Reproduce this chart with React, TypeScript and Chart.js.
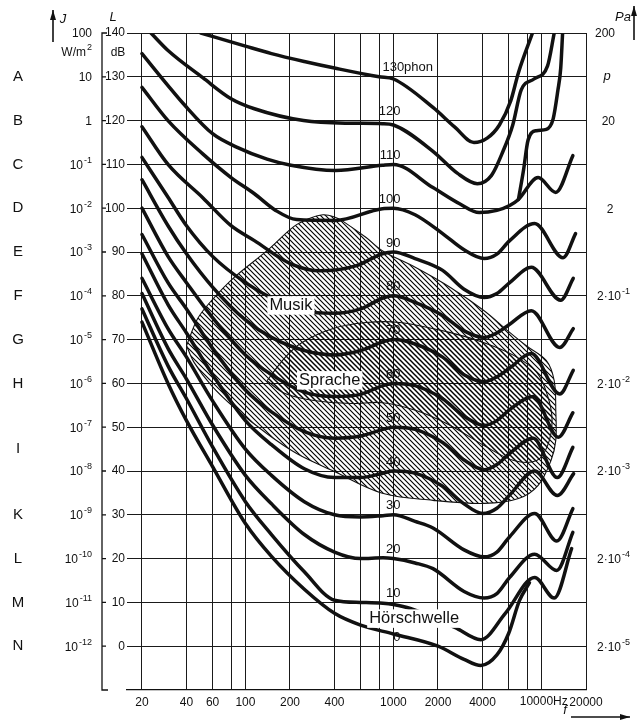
import React, { useEffect, useRef } from "react";
import { Chart, registerables } from "chart.js";

Chart.register(...registerables);

const FONT = "'Liberation Sans', Arial, Helvetica, sans-serif";

// ---------- axes ----------
const gridFreqs = [20, 40, 60, 80, 100, 200, 400, 600, 800, 1000, 2000, 4000, 6000, 8000, 10000, 20000];
const labeledFreqs = [20, 40, 60, 100, 200, 400, 1000, 2000, 4000, 20000];
const dbTicks = [0, 10, 20, 30, 40, 50, 60, 70, 80, 90, 100, 110, 120, 130, 140];

// ---------- equal loudness contours [Hz, dB] ----------
const phonLevels = [130, 120, 110, 100, 90, 80, 70, 60, 50, 40, 30, 20, 10, 0];
const curve130 = [[50, 140], [100, 137], [150, 135.3], [250, 133.5], [400, 132], [800, 130], [1000, 129.5], [1850, 123], [2600, 118.5], [3500, 115], [4300, 116], [5200, 119], [6200, 124.5], [7000, 131], [8700, 140]];
const curve120 = [[23, 140], [30, 136], [51.5, 129.8], [80, 125], [115, 122.7], [247, 120], [500, 119.4], [842, 119.3], [1000, 119], [1850, 113], [2700, 108], [3690, 105.6], [4600, 107.5], [5500, 113], [6400, 119], [7300, 127], [8900, 129.5], [11000, 132.5], [12200, 140]];
const curve110 = [[20, 135.3], [30, 128], [38, 123.9], [60, 117], [88, 113.9], [140, 111.2], [203, 109.8], [406, 108.6], [842, 109.8], [1000, 110], [1850, 104.7], [2800, 101], [3800, 99], [5000, 99.5], [6100, 100.6], [6990, 102], [9500, 107], [12500, 103.6], [16300, 112]];
const curve110Steep = [[6990, 102], [7560, 108.6], [8130, 115.6], [9240, 117.7], [10800, 118], [12000, 120.4], [12900, 126.8], [13500, 132], [13900, 140]];
const curve100 = [[20, 127.6], [30, 120], [51.5, 112.4], [80, 107], [115, 103.3], [160, 99.5], [222, 97.4], [406, 97.2], [842, 99.9], [1000, 100], [1400, 98.5], [2150, 94.2], [3000, 90.5], [4100, 88.5], [5000, 89.5], [6100, 92.6], [9000, 96.5], [14000, 88.7], [17000, 94.2]];
const curve90 = [[20, 118.6], [30, 110], [51.5, 102.4], [80, 96], [115, 92.6], [203, 87.3], [319, 85.7], [563, 86.9], [842, 89.6], [1000, 90], [1400, 88.5], [2150, 85.8], [3000, 81.5], [4100, 79.6], [5000, 80.5], [6100, 83], [8540, 86.5], [13500, 79], [16400, 84]];
const curve80 = [[20, 111.6], [30, 102.5], [40, 96], [60, 89], [100, 83], [150, 79.5], [250, 76.5], [400, 76], [600, 77], [850, 79.5], [1000, 80], [1400, 78.5], [2150, 75.5], [3000, 72], [4100, 70.5], [5000, 71.5], [6100, 73.5], [8540, 76.6], [13300, 68.2], [16400, 72.5]];
const curve70 = [[20, 106.5], [30, 96], [40, 89.6], [60, 82], [100, 74.5], [150, 70.5], [250, 67.5], [400, 66.5], [600, 67.5], [850, 69.5], [1000, 70], [1400, 69], [2150, 66], [3000, 62], [4100, 60.4], [5000, 61.5], [6100, 63.5], [8540, 66.8], [13300, 57.6], [16400, 63]];
const curve60 = [[20, 100], [30, 89], [40, 83], [60, 75], [100, 66.5], [150, 62], [250, 58], [400, 57], [600, 57.5], [850, 59.5], [1000, 60], [1400, 59.5], [2150, 56.5], [3000, 52.5], [4100, 50.4], [5000, 51.5], [6100, 54], [8800, 57], [13000, 47.7], [16300, 53.3]];
const curve50 = [[20, 94], [30, 83], [40, 77], [60, 68], [100, 58.5], [150, 53.5], [250, 49], [400, 47.5], [600, 48], [850, 49.5], [1000, 50], [1400, 49.5], [2150, 46.5], [3000, 42.5], [4100, 40.3], [5000, 41.5], [6100, 44], [8800, 47.5], [12800, 38.5], [16300, 45.4]];
const curve40 = [[20, 89.6], [30, 78], [40, 71.5], [60, 62], [100, 51.5], [150, 46], [250, 40.5], [400, 38.5], [600, 38.5], [850, 39.5], [1000, 40], [1400, 39.5], [2150, 36.5], [3000, 32.5], [4000, 30.3], [5000, 31.5], [6100, 34.5], [9000, 40], [12800, 34.4], [16500, 39.4]];
const curve30 = [[20, 84], [30, 72.5], [40, 66], [60, 56], [100, 45], [150, 39], [250, 33], [400, 30], [600, 29.5], [850, 29.8], [1000, 30], [1400, 28.5], [1850, 27], [3000, 22], [4100, 20.4], [5000, 21.5], [6100, 25], [9000, 30.3], [12700, 24], [16300, 31.4]];
const curve20 = [[20, 80.5], [30, 68], [40, 61], [60, 50.5], [100, 39], [150, 32.5], [250, 25.5], [400, 21.5], [600, 20], [850, 20.2], [1000, 20], [1400, 19], [1850, 17.7], [3000, 12.5], [4100, 11], [5000, 12], [6100, 15.7], [9000, 21], [12700, 17.3], [16300, 26]];
const curve10 = [[20, 77], [30, 64], [40, 56.5], [60, 45.5], [100, 33], [150, 25.5], [250, 17], [400, 10.5], [600, 10], [850, 9.8], [1000, 9.5], [1300, 8.6], [2600, 4.3], [3900, 1.5], [5700, 7.5], [9000, 15.7], [12200, 11], [16000, 22.3]];
const curve0 = [[20, 74], [30, 60], [40, 51.5], [60, 41], [100, 28], [150, 20.5], [250, 13], [400, 7.5], [600, 4.8], [1000, 2.8], [2000, 0], [3000, -3], [3900, -4.4], [5000, -2], [6000, 2.9], [7100, 10.4], [8300, 14.5]];
const curves = [curve130, curve120, curve110, curve110Steep, curve100, curve90, curve80, curve70, curve60, curve50, curve40, curve30, curve20, curve10, curve0];
const curveNames = ["130", "120", "110", "110 (steil)", "100", "90", "80", "70", "60", "50", "40", "30", "20", "10", "0"];

// ---------- hatched regions [Hz, dB] ----------
const musikArea = [[40, 68.6], [47.6, 74.8], [59, 78.9], [84, 84.2], [140, 90.3], [212, 95.8], [267, 97.6], [334, 98.5], [400, 98], [457, 97], [654, 93.3], [842, 90.3], [1425, 86.4], [2426, 81.9], [4100, 76.6], [5930, 72], [7900, 68.6], [10800, 65.2], [12200, 60.6], [12500, 53.8], [12500, 47], [11600, 42.4], [9500, 36.7], [7000, 33.7], [4100, 32.6], [1850, 33.3], [842, 34.9], [387, 40.1], [222, 44], [140, 48.5], [84, 54.5], [59, 59.5], [45, 64.8], [40, 68.6]];
const spracheArea = [[140, 60.6], [185, 65.9], [240, 69.3], [387, 72.5], [654, 73.9], [1100, 73.9], [2426, 71.6], [4100, 69.3], [6500, 66.4], [9300, 62.5], [11000, 57.2], [11800, 51.5], [11000, 45.8], [9300, 42.4], [6500, 42.4], [4100, 45.8], [2426, 50.4], [1425, 53.8], [842, 55.6], [520, 55.4], [290, 56.1], [185, 57.7], [140, 60.6]];

// ---------- side labels ----------
const rowLetters = ["A", "B", "C", "D", "E", "F", "G", "H", "I", "K", "L", "M", "N"];
const rowLetterDb = [130, 120, 110, 100, 90, 80, 70, 60, 45, 30, 20, 10, 0];
const intensityDb = [140, 130, 120, 110, 100, 90, 80, 70, 60, 50, 40, 30, 20, 10, 0];
const intensityBase = ["100", "10", "1", "10", "10", "10", "10", "10", "10", "10", "10", "10", "10", "10", "10"];
const intensityExp = ["", "", "", "-1", "-2", "-3", "-4", "-5", "-6", "-7", "-8", "-9", "-10", "-11", "-12"];
const pressureDb = [140, 120, 100, 80, 60, 40, 20, 0];
const pressureBase = ["200", "20", "2", "2·10", "2·10", "2·10", "2·10", "2·10"];
const pressureExp = ["", "", "", "-1", "-2", "-3", "-4", "-5"];

function drawSup(ctx: CanvasRenderingContext2D, base: string, exp: string, x: number, y: number, align: string, size = 12) {
  const big = `${size}px ${FONT}`;
  const small = `${Math.round(size * 0.72)}px ${FONT}`;
  ctx.font = big;
  const bw = ctx.measureText(base).width;
  ctx.font = small;
  const ew = exp ? ctx.measureText(exp).width + 1 : 0;
  const total = bw + ew;
  const x0 = align === "right" ? x - total : align === "center" ? x - total / 2 : x;
  ctx.textAlign = "left";
  ctx.textBaseline = "middle";
  ctx.font = big;
  ctx.fillText(base, x0, y);
  if (exp) {
    ctx.font = small;
    ctx.fillText(exp, x0 + bw + 1, y - 5);
  }
}

function arrow(ctx: CanvasRenderingContext2D, x1: number, y1: number, x2: number, y2: number) {
  ctx.beginPath();
  ctx.moveTo(x1, y1);
  ctx.lineTo(x2, y2);
  ctx.lineWidth = 1.6;
  ctx.stroke();
  const a = Math.atan2(y2 - y1, x2 - x1);
  const L = 10, W = 3;
  ctx.beginPath();
  ctx.moveTo(x2, y2);
  ctx.lineTo(x2 - L * Math.cos(a) + W * Math.sin(a), y2 - L * Math.sin(a) - W * Math.cos(a));
  ctx.lineTo(x2 - L * Math.cos(a) - W * Math.sin(a), y2 - L * Math.sin(a) + W * Math.cos(a));
  ctx.closePath();
  ctx.fill();
}

function whiteLabel(ctx: CanvasRenderingContext2D, text: string, x: number, y: number, size: number) {
  ctx.font = `${size}px ${FONT}`;
  const w = ctx.measureText(text).width;
  ctx.fillStyle = "#fff";
  ctx.fillRect(x - w / 2 - 2, y - size / 2 - 1, w + 4, size + 2);
  ctx.fillStyle = "#111";
  ctx.textAlign = "center";
  ctx.textBaseline = "middle";
  ctx.fillText(text, x, y);
}

const decor = {
  id: "decor",
  beforeDraw(chart: any) {
    const { ctx, width, height } = chart;
    ctx.save();
    ctx.fillStyle = "#fff";
    ctx.fillRect(0, 0, width, height);
    ctx.restore();
  },
  afterDatasetsDraw(chart: any) {
    const { ctx, scales } = chart;
    const xs = scales.x, ys = scales.y;
    ctx.save();
    whiteLabel(ctx, "Musik", xs.getPixelForValue(203), ys.getPixelForValue(77.8), 16.5);
    whiteLabel(ctx, "Sprache", xs.getPixelForValue(371), ys.getPixelForValue(60.7), 16.5);
    whiteLabel(ctx, "Hörschwelle", xs.getPixelForValue(1380), ys.getPixelForValue(6.3), 16.5);
    ctx.fillStyle = "#111";
    ctx.font = `13px ${FONT}`;
    ctx.textBaseline = "middle";
    const x1k = xs.getPixelForValue(1000);
    phonLevels.forEach((p) => {
      const yy = ys.getPixelForValue(p) - 9;
      if (p === 130) {
        ctx.textAlign = "left";
        ctx.fillText("130phon", x1k - 11, yy);
      } else {
        ctx.textAlign = "right";
        ctx.fillText(String(p), x1k + 7, yy);
      }
    });
    ctx.restore();
  },
  afterDraw(chart: any) {
    const { ctx, scales } = chart;
    const xs = scales.x, ys = scales.y;
    ctx.save();
    ctx.strokeStyle = "#111";
    ctx.fillStyle = "#111";
    // left bracket spine
    const yTop = ys.getPixelForValue(140), yBot = ys.getPixelForValue(-10);
    ctx.lineWidth = 1.3;
    ctx.beginPath();
    ctx.moveTo(107, yTop); ctx.lineTo(102, yTop); ctx.lineTo(102, yBot); ctx.lineTo(108, yBot);
    dbTicks.forEach((d) => { const yy = ys.getPixelForValue(d); ctx.moveTo(102, yy); ctx.lineTo(106, yy); });
    ctx.stroke();
    // letters
    ctx.font = `15px ${FONT}`;
    ctx.textAlign = "center";
    ctx.textBaseline = "middle";
    rowLetters.forEach((l, i) => ctx.fillText(l, 18, ys.getPixelForValue(rowLetterDb[i])));
    // intensity labels
    intensityDb.forEach((d, i) => drawSup(ctx, intensityBase[i], intensityExp[i], 92, ys.getPixelForValue(d) + 1, "right", 12));
    drawSup(ctx, "W/m", "2", 92, 53, "right", 12);
    ctx.font = `12px ${FONT}`;
    ctx.textAlign = "center";
    ctx.fillText("dB", 118, 53);
    // pressure labels
    pressureDb.forEach((d, i) => {
      const yy = ys.getPixelForValue(d) + 1;
      if (i < 2) drawSup(ctx, pressureBase[i], "", 615, yy, "right", 12);
      else if (i === 2) drawSup(ctx, pressureBase[i], "", 610, yy, "center", 12);
      else drawSup(ctx, pressureBase[i], pressureExp[i], 597, yy, "left", 12);
    });
    ctx.font = `italic 13px ${FONT}`;
    ctx.textAlign = "center";
    ctx.fillText("p", 607, ys.getPixelForValue(130));
    ctx.fillText("Pa", 623, 17);
    ctx.fillText("J", 63, 19);
    ctx.fillText("L", 113, 17);
    ctx.fillText("f", 565, 710);
    arrow(ctx, 634, 40, 634, 6);
    arrow(ctx, 53, 42, 53, 10);
    arrow(ctx, 571, 717, 630, 717);
    // 10000 Hz label group (shifted left as in the original print)
    ctx.font = `12px ${FONT}`;
    ctx.textAlign = "center";
    const xl = xs.getPixelForValue(10000);
    const yl = xs.bottom - 24 + 12;
    ctx.fillText("10000", xl - 5, ys.bottom + 12);
    ctx.fillText("Hz", xl + 19, ys.bottom + 12);
    ctx.restore();
  },
};

export default function App() {
  const ref = useRef<HTMLCanvasElement | null>(null);
  useEffect(() => {
    document.body.style.margin = "0";
    const canvas = ref.current!;
    const ctx = canvas.getContext("2d")!;
    const pc = document.createElement("canvas");
    pc.width = 5; pc.height = 5;
    const g = pc.getContext("2d")!;
    g.strokeStyle = "#000";
    g.lineWidth = 1.15;
    g.beginPath();
    g.moveTo(-1, -1); g.lineTo(6, 6);
    g.moveTo(-1, 4); g.lineTo(1, 6);
    g.moveTo(4, -1); g.lineTo(6, 1);
    g.stroke();
    const pattern = ctx.createPattern(pc, "repeat");

    const curveSets = curves.map((c, i) => ({
      label: `${curveNames[i]} phon`,
      data: c.map(([f, d]) => ({ x: f, y: d })),
      borderColor: "#111",
      borderWidth: 3.5,
      pointRadius: 0,
      fill: false,
      cubicInterpolationMode: "monotone" as const,
      borderCapStyle: "round" as const,
      borderJoinStyle: "round" as const,
    }));
    const areaSet = (name: string, pts: number[][]) => ({
      label: name,
      data: pts.map(([f, d]) => ({ x: f, y: d })),
      borderColor: "#111",
      borderWidth: 1.1,
      pointRadius: 0,
      fill: "shape",
      backgroundColor: pattern,
      tension: 0.35,
    });

    const chart = new Chart(canvas, {
      type: "line",
      data: { datasets: [...curveSets, areaSet("Sprache", spracheArea), areaSet("Musik", musikArea)] as any },
      options: {
        responsive: false,
        animation: false,
        devicePixelRatio: 1,
        layout: { padding: { left: 97, right: 55, top: 33, bottom: 6 } },
        plugins: { legend: { display: false }, tooltip: { enabled: false } },
        scales: {
          x: {
            type: "logarithmic",
            min: 15.85,
            max: 20000,
            afterBuildTicks: (s: any) => { s.ticks = gridFreqs.map((v) => ({ value: v })); },
            afterFit: (s: any) => { s.height = 24; },
            grid: { color: "#1a1a1a", lineWidth: 1, drawTicks: false },
            border: { display: true, color: "#111", width: 1.3 },
            ticks: {
              autoSkip: false,
              maxRotation: 0,
              padding: 5,
              color: "#111",
              font: { size: 12, family: FONT },
              callback: (v: any) => (labeledFreqs.includes(Number(v)) ? String(v) : ""),
            },
          },
          y: {
            type: "linear",
            min: -10,
            max: 140,
            afterBuildTicks: (s: any) => { s.ticks = dbTicks.map((v) => ({ value: v })); },
            afterFit: (s: any) => { s.width = 30; },
            grid: { color: "#1a1a1a", lineWidth: 1, drawTicks: false },
            border: { display: false },
            ticks: { padding: 2, color: "#111", font: { size: 12, family: FONT } },
          },
        },
      } as any,
      plugins: [decor],
    });
    return () => chart.destroy();
  }, []);
  return <canvas ref={ref} width={641} height={720} style={{ display: "block" }} />;
}
